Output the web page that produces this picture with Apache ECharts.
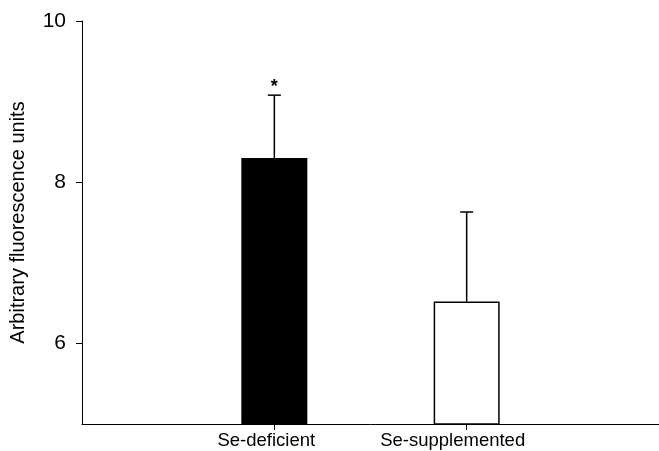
<!DOCTYPE html>
<html>
<head>
<meta charset="utf-8">
<script src="https://cdn.jsdelivr.net/npm/echarts@6/dist/echarts.min.js"></script>
<style>html,body{margin:0;padding:0;background:#fff}#c{width:659px;height:451px}</style>
</head>
<body>
<div id="c"></div>
<script>
var categories = ['Se-deficient', 'Se-supplemented'];
var means = [8.3, 6.52];
var upperErr = [9.08, 7.63];
var significance = ['*', ''];
var barColors = ['#000000', '#ffffff'];
var yTicks = [6, 8, 10];

var FONT = '"Liberation Sans", Arial, sans-serif';
var chart = echarts.init(document.getElementById('c'), null, {renderer: 'canvas'});

var barData = categories.map(function (c, i) {
  return {value: [i + 1, means[i]], itemStyle: {color: barColors[i], borderColor: '#000', borderWidth: 1.5}};
});
var errData = categories.map(function (c, i) { return [i + 1, means[i], upperErr[i], significance[i]]; });
var labelStyleKeys = ['a', 'b'];

chart.setOption({
  animation: false,
  backgroundColor: '#fff',
  grid: {left: 82, top: 21, width: 579, height: 403},
  xAxis: {
    type: 'value', min: 0, max: 3, interval: 1,
    splitLine: {show: false},
    axisLine: {show: true, lineStyle: {color: '#000', width: 1}},
    axisTick: {show: true, length: 6, lineStyle: {color: '#000'}, customValues: [1, 2]},
    axisLabel: {
      customValues: [1, 2],
      formatter: function (v) {
        var i = Math.round(v) - 1;
        return categories[i] ? '{' + labelStyleKeys[i] + '|' + categories[i] + '}' : '';
      },
      color: '#000', fontSize: 18.5, fontFamily: FONT, margin: 7,
      rich: {
        a: {color: '#000', fontSize: 18.5, fontFamily: FONT, padding: [0, 16, 0, 0]},
        b: {color: '#000', fontSize: 18.5, fontFamily: FONT, padding: [0, 28, 0, 0]}
      }
    }
  },
  yAxis: {
    type: 'value', min: 5, max: 10, interval: 1,
    name: 'Arbitrary fluorescence units', nameLocation: 'middle', nameGap: 54, nameRotate: 90,
    nameTextStyle: {color: '#000', fontSize: 20, fontFamily: FONT},
    splitLine: {show: false},
    axisLine: {show: true, lineStyle: {color: '#000', width: 1}},
    axisTick: {show: true, length: 6, lineStyle: {color: '#000'}, customValues: yTicks},
    axisLabel: {customValues: yTicks, color: '#000', fontSize: 21, fontFamily: FONT, margin: 16}
  },
  series: [
    {
      type: 'bar', data: barData, barWidth: 66, z: 2
    },
    {
      type: 'custom', z: 3,
      data: errData,
      encode: {x: 0, y: [1, 2]},
      renderItem: function (params, api) {
        var x = api.value(0);
        var top = api.coord([x, api.value(1)]);
        var hi = api.coord([x, api.value(2)]);
        var cw = 6.5;
        var children = [
          {type: 'line', shape: {x1: top[0], y1: top[1], x2: hi[0], y2: hi[1]}, style: {stroke: '#000', lineWidth: 1.5}},
          {type: 'line', shape: {x1: hi[0] - cw, y1: hi[1], x2: hi[0] + cw, y2: hi[1]}, style: {stroke: '#000', lineWidth: 1.5}}
        ];
        var s = api.value(3);
        if (s) {
          children.push({type: 'text', style: {text: s, x: hi[0], y: hi[1] - 4, align: 'center', verticalAlign: 'bottom', fill: '#000', font: 'bold 18px ' + FONT}, y: 5});
        }
        return {type: 'group', children: children};
      }
    }
  ]
});
</script>
</body>
</html>
